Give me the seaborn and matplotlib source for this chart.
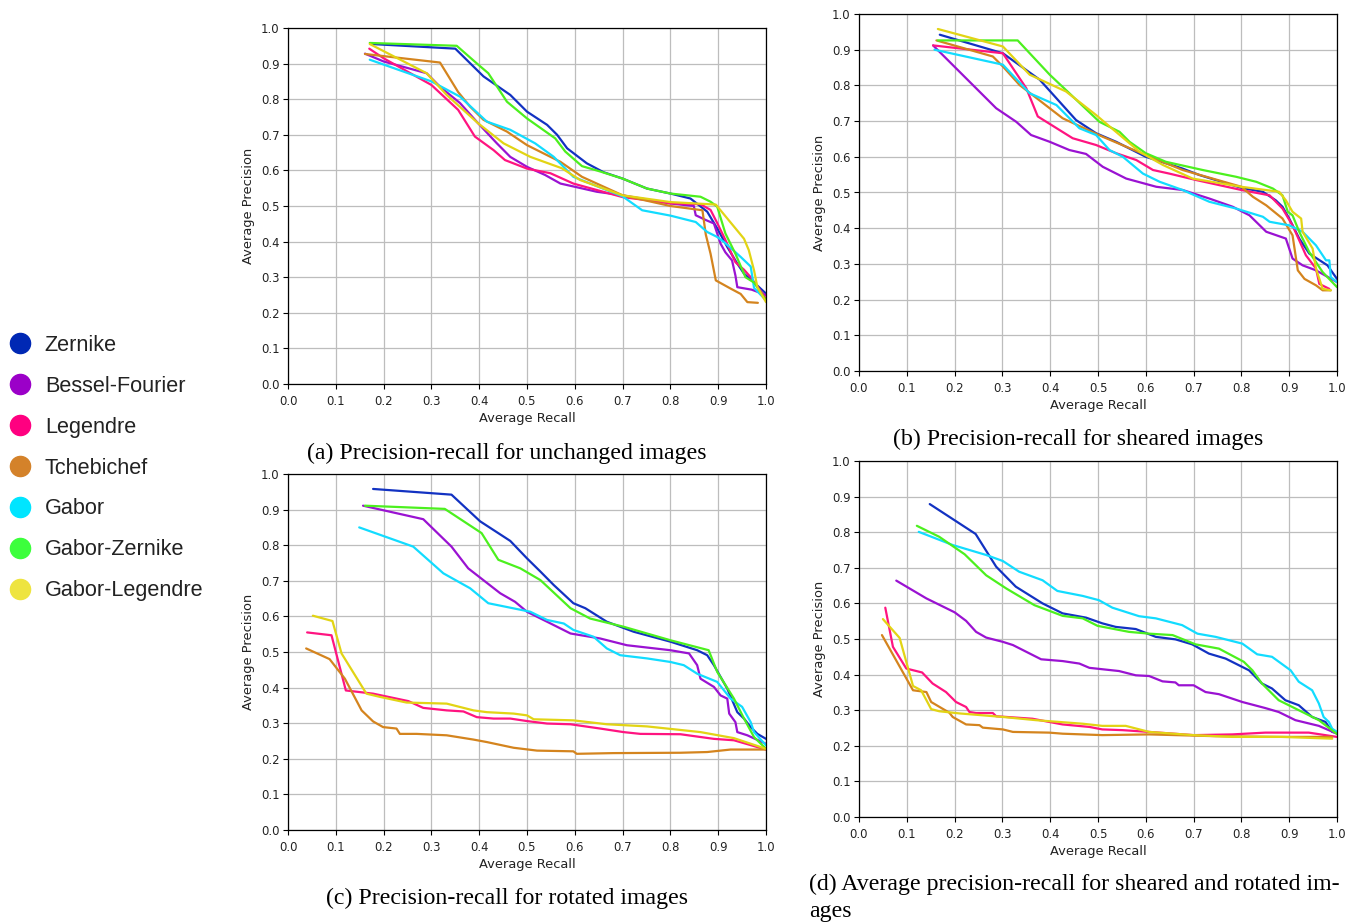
import numpy as np
import pandas as pd
import matplotlib
matplotlib.use("Agg")
import matplotlib.pyplot as plt
import seaborn as sns
from matplotlib.lines import Line2D

METHODS = ["Zernike", "Bessel-Fourier", "Legendre", "Tchebichef", "Gabor", "Gabor-Zernike", "Gabor-Legendre"]
LINE_COLORS = ["#1232c2", "#9a12d2", "#ff1480", "#d4841e", "#12dcff", "#4cf01e", "#e2d414"]
LEGEND_COLORS = ["#0028b4", "#9b00c8", "#ff0080", "#d4822a", "#00e5ff", "#3cff3c", "#eee440"]

# ---------------- (a) unchanged ----------------
A_ZER_R = [0.175, 0.35, 0.409, 0.465, 0.5, 0.542, 0.563, 0.584, 0.625, 0.66, 0.7, 0.751, 0.8, 0.842, 0.86, 0.877, 0.898, 0.919, 0.94, 0.954, 0.975, 1.0]
A_ZER_P = [0.955, 0.942, 0.864, 0.812, 0.765, 0.728, 0.70, 0.662, 0.62, 0.595, 0.577, 0.549, 0.535, 0.521, 0.502, 0.484, 0.437, 0.385, 0.338, 0.31, 0.285, 0.254]
A_BES_R = [0.161, 0.2, 0.29, 0.318, 0.36, 0.398, 0.437, 0.465, 0.5, 0.538, 0.57, 0.6, 0.646, 0.7, 0.8, 0.849, 0.853, 0.875, 0.891, 0.905, 0.915, 0.929, 0.936, 0.94, 0.97, 1.0]
A_BES_P = [0.928, 0.906, 0.873, 0.835, 0.789, 0.732, 0.676, 0.638, 0.61, 0.587, 0.563, 0.554, 0.540, 0.530, 0.507, 0.5, 0.474, 0.46, 0.451, 0.394, 0.37, 0.347, 0.305, 0.272, 0.265, 0.25]
A_LEG_R = [0.17, 0.2, 0.3, 0.356, 0.391, 0.43, 0.454, 0.5, 0.549, 0.597, 0.7, 0.8, 0.863, 0.884, 0.898, 0.915, 0.936, 0.954, 0.968, 1.0]
A_LEG_P = [0.942, 0.915, 0.84, 0.77, 0.695, 0.657, 0.629, 0.605, 0.592, 0.563, 0.525, 0.508, 0.505, 0.489, 0.452, 0.405, 0.342, 0.321, 0.3, 0.24]
A_TCH_R = [0.161, 0.318, 0.356, 0.381, 0.409, 0.458, 0.5, 0.57, 0.615, 0.7, 0.8, 0.867, 0.874, 0.884, 0.895, 0.926, 0.947, 0.961, 0.983]
A_TCH_P = [0.927, 0.903, 0.82, 0.779, 0.742, 0.709, 0.671, 0.624, 0.582, 0.53, 0.5, 0.488, 0.42, 0.366, 0.291, 0.268, 0.253, 0.230, 0.228]
A_GAB_R = [0.171, 0.3, 0.36, 0.416, 0.465, 0.517, 0.556, 0.597, 0.7, 0.741, 0.8, 0.853, 0.877, 0.898, 0.912, 0.947, 0.968, 0.975, 1.0]
A_GAB_P = [0.911, 0.85, 0.807, 0.737, 0.714, 0.676, 0.638, 0.582, 0.527, 0.488, 0.473, 0.455, 0.427, 0.413, 0.399, 0.357, 0.33, 0.27, 0.235]
A_GZ_R = [0.171, 0.353, 0.398, 0.419, 0.458, 0.5, 0.559, 0.58, 0.615, 0.653, 0.7, 0.751, 0.8, 0.863, 0.884, 0.898, 0.915, 0.936, 0.957, 0.975, 1.0]
A_GZ_P = [0.958, 0.950, 0.897, 0.873, 0.793, 0.746, 0.69, 0.653, 0.612, 0.597, 0.577, 0.549, 0.535, 0.526, 0.512, 0.498, 0.423, 0.366, 0.3, 0.285, 0.235]
A_GL_R = [0.171, 0.29, 0.332, 0.398, 0.451, 0.507, 0.573, 0.611, 0.7, 0.8, 0.895, 0.919, 0.954, 0.964, 0.975, 0.982, 1.0]
A_GL_P = [0.955, 0.873, 0.812, 0.732, 0.676, 0.638, 0.606, 0.573, 0.53, 0.511, 0.504, 0.465, 0.408, 0.376, 0.319, 0.272, 0.23]

# ---------------- (b) sheared ----------------
B_ZER_R = [0.169, 0.301, 0.378, 0.454, 0.496, 0.538, 0.6, 0.677, 0.712, 0.8, 0.845, 0.872, 0.886, 0.9, 0.921, 0.942, 0.98, 1.0]
B_ZER_P = [0.942, 0.89, 0.816, 0.703, 0.666, 0.642, 0.6, 0.567, 0.549, 0.513, 0.502, 0.478, 0.46, 0.427, 0.371, 0.329, 0.296, 0.258]
B_BES_R = [0.155, 0.287, 0.329, 0.36, 0.399, 0.44, 0.475, 0.51, 0.559, 0.622, 0.677, 0.733, 0.782, 0.817, 0.852, 0.893, 0.907, 0.928, 0.956, 1.0]
B_BES_P = [0.912, 0.736, 0.698, 0.661, 0.642, 0.619, 0.608, 0.572, 0.539, 0.516, 0.507, 0.483, 0.46, 0.436, 0.39, 0.371, 0.315, 0.296, 0.282, 0.249]
B_LEG_R = [0.155, 0.301, 0.35, 0.374, 0.447, 0.496, 0.538, 0.58, 0.615, 0.649, 0.705, 0.8, 0.859, 0.886, 0.907, 0.935, 0.956, 0.963, 0.984]
B_LEG_P = [0.912, 0.89, 0.792, 0.713, 0.652, 0.633, 0.61, 0.591, 0.563, 0.553, 0.535, 0.507, 0.492, 0.455, 0.408, 0.324, 0.287, 0.244, 0.23]
B_TCH_R = [0.162, 0.28, 0.301, 0.336, 0.426, 0.51, 0.6, 0.677, 0.8, 0.824, 0.852, 0.886, 0.907, 0.918, 0.932, 0.956, 0.97, 0.987]
B_TCH_P = [0.926, 0.881, 0.853, 0.801, 0.708, 0.656, 0.605, 0.563, 0.516, 0.488, 0.464, 0.427, 0.38, 0.282, 0.258, 0.24, 0.226, 0.226]
B_GAB_R = [0.158, 0.301, 0.357, 0.413, 0.461, 0.496, 0.524, 0.552, 0.594, 0.629, 0.677, 0.733, 0.789, 0.845, 0.859, 0.9, 0.928, 0.956, 0.977, 0.984, 0.987, 1.0]
B_GAB_P = [0.9, 0.858, 0.778, 0.745, 0.68, 0.661, 0.619, 0.6, 0.553, 0.53, 0.507, 0.474, 0.455, 0.432, 0.418, 0.408, 0.39, 0.352, 0.31, 0.31, 0.263, 0.249]
B_GZ_R = [0.165, 0.332, 0.399, 0.433, 0.503, 0.545, 0.566, 0.6, 0.642, 0.719, 0.789, 0.831, 0.866, 0.886, 0.897, 0.907, 0.921, 0.942, 0.97, 1.0]
B_GZ_P = [0.926, 0.926, 0.83, 0.787, 0.698, 0.67, 0.642, 0.61, 0.586, 0.563, 0.544, 0.53, 0.511, 0.492, 0.446, 0.436, 0.39, 0.333, 0.277, 0.235]
B_GL_R = [0.165, 0.301, 0.357, 0.433, 0.496, 0.587, 0.636, 0.698, 0.8, 0.879, 0.893, 0.907, 0.925, 0.928, 0.949, 0.956, 0.97, 0.987]
B_GL_P = [0.958, 0.909, 0.83, 0.783, 0.717, 0.614, 0.577, 0.539, 0.516, 0.502, 0.478, 0.446, 0.427, 0.39, 0.343, 0.287, 0.23, 0.226]

# ---------------- (c) rotated ----------------
C_ZER_R = [0.178, 0.342, 0.402, 0.465, 0.5, 0.528, 0.556, 0.597, 0.622, 0.667, 0.723, 0.8, 0.856, 0.877, 0.891, 0.919, 0.94, 0.954, 0.968, 0.982, 1.0]
C_ZER_P = [0.958, 0.942, 0.867, 0.812, 0.763, 0.726, 0.688, 0.637, 0.623, 0.585, 0.557, 0.529, 0.505, 0.491, 0.463, 0.397, 0.331, 0.313, 0.289, 0.27, 0.256]
C_BES_R = [0.157, 0.283, 0.342, 0.377, 0.444, 0.475, 0.5, 0.542, 0.591, 0.653, 0.709, 0.8, 0.839, 0.856, 0.863, 0.891, 0.905, 0.919, 0.923, 0.936, 0.94, 0.961, 1.0]
C_BES_P = [0.911, 0.873, 0.796, 0.735, 0.665, 0.641, 0.613, 0.585, 0.552, 0.538, 0.519, 0.505, 0.496, 0.463, 0.425, 0.402, 0.378, 0.369, 0.327, 0.303, 0.275, 0.266, 0.242]
C_LEG_R = [0.04, 0.091, 0.121, 0.178, 0.252, 0.283, 0.332, 0.367, 0.395, 0.43, 0.465, 0.5, 0.542, 0.591, 0.653, 0.702, 0.737, 0.821, 0.891, 0.933, 1.0]
C_LEG_P = [0.555, 0.547, 0.392, 0.383, 0.362, 0.343, 0.336, 0.333, 0.317, 0.313, 0.313, 0.306, 0.299, 0.297, 0.285, 0.275, 0.27, 0.269, 0.256, 0.252, 0.226]
C_TCH_R = [0.038, 0.087, 0.119, 0.154, 0.178, 0.199, 0.227, 0.234, 0.269, 0.332, 0.388, 0.416, 0.472, 0.521, 0.597, 0.604, 0.681, 0.821, 0.877, 0.926, 1.0]
C_TCH_P = [0.51, 0.48, 0.425, 0.336, 0.305, 0.289, 0.285, 0.27, 0.27, 0.266, 0.254, 0.247, 0.231, 0.223, 0.221, 0.214, 0.216, 0.217, 0.219, 0.226, 0.226]
C_GAB_R = [0.149, 0.262, 0.325, 0.381, 0.419, 0.507, 0.542, 0.577, 0.597, 0.639, 0.667, 0.695, 0.751, 0.8, 0.828, 0.856, 0.898, 0.926, 0.95, 0.968, 0.975, 1.0]
C_GAB_P = [0.85, 0.796, 0.721, 0.679, 0.637, 0.613, 0.59, 0.58, 0.562, 0.543, 0.51, 0.491, 0.482, 0.472, 0.463, 0.439, 0.416, 0.369, 0.346, 0.303, 0.275, 0.238]
C_GZ_R = [0.161, 0.328, 0.405, 0.44, 0.486, 0.528, 0.591, 0.632, 0.702, 0.8, 0.88, 0.898, 0.933, 0.954, 0.975, 1.0]
C_GZ_P = [0.911, 0.902, 0.834, 0.759, 0.735, 0.702, 0.623, 0.594, 0.571, 0.533, 0.505, 0.444, 0.369, 0.313, 0.261, 0.228]
C_GL_R = [0.052, 0.093, 0.112, 0.164, 0.192, 0.248, 0.332, 0.388, 0.416, 0.472, 0.5, 0.514, 0.597, 0.667, 0.751, 0.807, 0.863, 0.933, 1.0]
C_GL_P = [0.602, 0.587, 0.496, 0.383, 0.374, 0.358, 0.355, 0.336, 0.331, 0.327, 0.322, 0.311, 0.308, 0.297, 0.291, 0.283, 0.275, 0.258, 0.228]

# ---------------- (d) sheared and rotated ----------------
D_ZER_R = [0.148, 0.244, 0.287, 0.328, 0.384, 0.426, 0.475, 0.509, 0.537, 0.579, 0.621, 0.662, 0.697, 0.732, 0.767, 0.816, 0.843, 0.864, 0.892, 0.92, 0.948, 0.976, 0.99, 1.0]
D_ZER_P = [0.879, 0.795, 0.703, 0.647, 0.6, 0.572, 0.56, 0.544, 0.534, 0.528, 0.506, 0.499, 0.485, 0.459, 0.445, 0.412, 0.375, 0.361, 0.328, 0.314, 0.281, 0.267, 0.239, 0.236]
D_BES_R = [0.078, 0.141, 0.2, 0.224, 0.245, 0.266, 0.301, 0.322, 0.381, 0.426, 0.461, 0.482, 0.544, 0.579, 0.607, 0.635, 0.662, 0.669, 0.7, 0.725, 0.753, 0.802, 0.85, 0.878, 0.913, 0.962, 1.0]
D_BES_P = [0.664, 0.614, 0.575, 0.551, 0.52, 0.504, 0.492, 0.483, 0.443, 0.438, 0.431, 0.419, 0.41, 0.398, 0.396, 0.381, 0.378, 0.37, 0.37, 0.351, 0.345, 0.323, 0.306, 0.295, 0.272, 0.256, 0.234]
D_LEG_R = [0.055, 0.071, 0.099, 0.132, 0.154, 0.182, 0.203, 0.224, 0.231, 0.245, 0.28, 0.287, 0.363, 0.398, 0.426, 0.482, 0.509, 0.551, 0.607, 0.7, 0.781, 0.85, 0.941, 1.0]
D_LEG_P = [0.588, 0.478, 0.417, 0.406, 0.375, 0.351, 0.323, 0.309, 0.295, 0.292, 0.292, 0.283, 0.276, 0.267, 0.26, 0.253, 0.246, 0.244, 0.239, 0.23, 0.232, 0.237, 0.237, 0.225]
D_TCH_R = [0.048, 0.113, 0.141, 0.151, 0.189, 0.196, 0.224, 0.252, 0.259, 0.301, 0.322, 0.398, 0.426, 0.509, 0.607, 0.746, 0.885, 0.99]
D_TCH_P = [0.511, 0.356, 0.351, 0.323, 0.293, 0.281, 0.26, 0.258, 0.251, 0.246, 0.239, 0.237, 0.234, 0.23, 0.232, 0.227, 0.225, 0.225]
D_GAB_R = [0.125, 0.196, 0.266, 0.301, 0.335, 0.384, 0.415, 0.468, 0.502, 0.53, 0.586, 0.621, 0.676, 0.708, 0.746, 0.802, 0.833, 0.864, 0.903, 0.92, 0.948, 0.962, 0.972, 0.983, 0.99, 1.0]
D_GAB_P = [0.801, 0.764, 0.736, 0.719, 0.689, 0.665, 0.635, 0.621, 0.609, 0.588, 0.564, 0.558, 0.539, 0.515, 0.506, 0.487, 0.457, 0.45, 0.412, 0.38, 0.356, 0.319, 0.281, 0.267, 0.248, 0.239]
D_GZ_R = [0.121, 0.168, 0.221, 0.266, 0.308, 0.367, 0.426, 0.468, 0.499, 0.565, 0.607, 0.656, 0.704, 0.753, 0.805, 0.823, 0.843, 0.878, 0.92, 0.962, 1.0]
D_GZ_P = [0.818, 0.787, 0.738, 0.679, 0.642, 0.595, 0.565, 0.558, 0.537, 0.52, 0.515, 0.511, 0.485, 0.473, 0.436, 0.412, 0.375, 0.328, 0.3, 0.272, 0.233]
D_GL_R = [0.05, 0.085, 0.113, 0.13, 0.151, 0.168, 0.21, 0.301, 0.37, 0.468, 0.509, 0.558, 0.607, 0.7, 0.781, 0.885, 0.99]
D_GL_P = [0.556, 0.503, 0.368, 0.356, 0.303, 0.297, 0.291, 0.281, 0.272, 0.262, 0.256, 0.256, 0.239, 0.23, 0.225, 0.225, 0.22]

TICKS = [0.0, 0.1, 0.2, 0.3, 0.4, 0.5, 0.6, 0.7, 0.8, 0.9, 1.0]
TICK_LABELS = ["0.0", "0.1", "0.2", "0.3", "0.4", "0.5", "0.6", "0.7", "0.8", "0.9", "1.0"]

CAPTIONS = [
    "(a) Precision-recall for unchanged images",
    "(b) Precision-recall for sheared images",
    "(c) Precision-recall for rotated images",
    "(d) Average precision-recall for sheared and rotated im-",
    "ages",
]

PANELS = [
    [(A_ZER_R, A_ZER_P), (A_BES_R, A_BES_P), (A_LEG_R, A_LEG_P), (A_TCH_R, A_TCH_P), (A_GAB_R, A_GAB_P), (A_GZ_R, A_GZ_P), (A_GL_R, A_GL_P)],
    [(B_ZER_R, B_ZER_P), (B_BES_R, B_BES_P), (B_LEG_R, B_LEG_P), (B_TCH_R, B_TCH_P), (B_GAB_R, B_GAB_P), (B_GZ_R, B_GZ_P), (B_GL_R, B_GL_P)],
    [(C_ZER_R, C_ZER_P), (C_BES_R, C_BES_P), (C_LEG_R, C_LEG_P), (C_TCH_R, C_TCH_P), (C_GAB_R, C_GAB_P), (C_GZ_R, C_GZ_P), (C_GL_R, C_GL_P)],
    [(D_ZER_R, D_ZER_P), (D_BES_R, D_BES_P), (D_LEG_R, D_LEG_P), (D_TCH_R, D_TCH_P), (D_GAB_R, D_GAB_P), (D_GZ_R, D_GZ_P), (D_GL_R, D_GL_P)],
]

sns.set_theme(style="ticks")
plt.rcParams["font.family"] = ["DejaVu Sans"]

W, H = 1361, 922
fig = plt.figure(figsize=(W / 100, H / 100), dpi=100)

# axes boxes in pixels: left, top, right, bottom
BOXES = [(288, 28, 766, 384), (859, 14, 1337, 371), (288, 474, 766, 830), (859, 461, 1337, 817)]

palette = dict(zip(METHODS, LINE_COLORS))

for i, (box, series) in enumerate(zip(BOXES, PANELS)):
    l, t, r, b = box
    ax = fig.add_axes([l / W, 1 - b / H, (r - l) / W, (b - t) / H])
    frames = []
    for m, (xs, ys) in zip(METHODS, series):
        frames.append(pd.DataFrame({"Average Recall": xs, "Average Precision": ys, "method": m}))
    df = pd.concat(frames, ignore_index=True)
    sns.lineplot(data=df, x="Average Recall", y="Average Precision", hue="method",
                 hue_order=METHODS, palette=palette, sort=False, estimator=None,
                 units="method", linewidth=1.6, legend=False, ax=ax)
    ax.set_xlim(0, 1)
    ax.set_ylim(0, 1)
    ax.set_xticks(TICKS)
    ax.set_xticklabels(TICK_LABELS)
    ax.set_yticks(TICKS)
    ax.set_yticklabels(TICK_LABELS)
    ax.tick_params(labelsize=8.4, length=3.5, width=0.8, color="black", labelcolor="#222222")
    ax.tick_params(axis="x", pad=4.5)
    ax.tick_params(axis="y", pad=2.5)
    ax.grid(True, color="#bdbdbd", linewidth=0.9)
    ax.set_axisbelow(True)
    for s in ax.spines.values():
        s.set_color("black")
        s.set_linewidth(0.9)
    ax.set_xlabel("Average Recall", fontsize=9.4, color="#222222", labelpad=3)
    ax.set_ylabel("Average Precision", fontsize=9.4, color="#222222", labelpad=4)

cap_font = dict(family=["Liberation Serif", "DejaVu Serif"], fontsize=17.2, color="black")
fig.text(507 / W, 1 - 453 / H, CAPTIONS[0], ha="center", va="center", **cap_font)
fig.text(1078 / W, 1 - 439 / H, CAPTIONS[1], ha="center", va="center", **cap_font)
fig.text(507 / W, 1 - 898 / H, CAPTIONS[2], ha="center", va="center", **cap_font)
fig.text(809 / W, 1 - 884 / H, CAPTIONS[3], ha="left", va="center", **cap_font)
fig.text(809 / W, 1 - 911 / H, CAPTIONS[4], ha="left", va="center", **cap_font)

handles = [Line2D([], [], linestyle="none", marker="o", markersize=14.5,
                  markerfacecolor=c, markeredgecolor=c) for c in LEGEND_COLORS]
fig.legend(handles, METHODS, loc="center left", bbox_to_anchor=(8 / W, 1 - 468 / H),
           frameon=False, handlelength=1.1, handletextpad=0.6,
           labelspacing=0.92, borderpad=0, borderaxespad=0,
           prop={"family": ["Liberation Sans", "DejaVu Sans"], "size": 15.6})
for txt in fig.legends[0].get_texts():
    txt.set_color("#222222")

fig.savefig("out.png", dpi=100)
